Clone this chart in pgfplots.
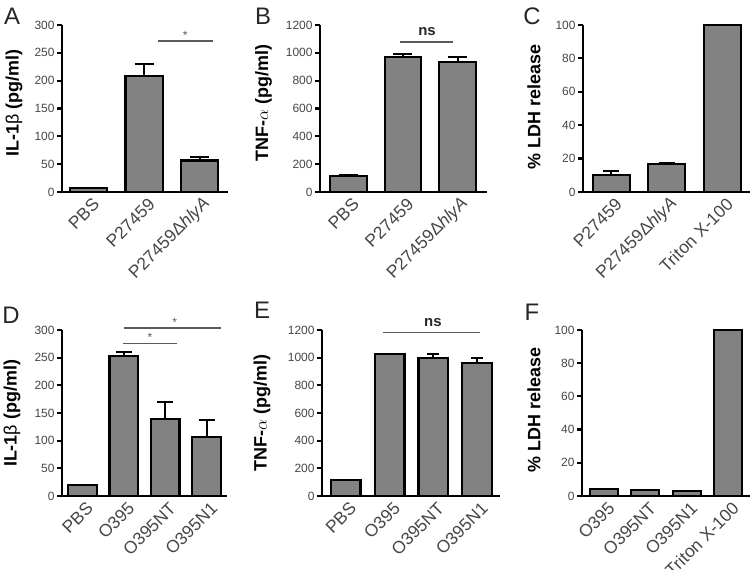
\documentclass[border=0pt]{standalone}
\usepackage{fontspec}
\setmainfont{Liberation Sans}
\usepackage{pgfplots}
\pgfplotsset{compat=1.18}
\definecolor{barfill}{RGB}{130,130,130}
\definecolor{tickgray}{RGB}{70,70,70}
\definecolor{siggray}{RGB}{90,90,90}
\tikzset{sig/.style={line width=1.5bp, siggray}}
\pgfplotsset{
  panel/.style={
    scale only axis,
    axis x line*=bottom, axis y line*=left,
    axis line style={line width=2.6bp, black},
    ymin=0, enlarge y limits=false,
    xtick={0,1,2,3}, xtick style={draw=none},
    tick align=outside, major tick length=5bp,
    ytick style={line width=2.2bp, black},
    /pgf/number format/assume math mode=true,
    /pgf/number format/1000 sep={},
    yticklabel style={font=\fontsize{12}{12}\selectfont, text=tickgray, xshift=1bp},
    xticklabel style={font=\fontsize{17.5}{18}\selectfont, text=tickgray, xshift=10bp, yshift=-2bp, rotate=45, anchor=east},
    ybar, bar shift=0pt,
    clip=false,
  },
  bars/.style={fill=barfill, draw=black, line width=2.2bp,
    error bars/.cd, y dir=plus, y explicit,
    error bar style={line width=2bp, black},
    error mark options={rotate=90, line width=2bp, black, mark size=#1}},
}
\begin{document}
\begin{tikzpicture}[x=1bp,y=1bp]
\useasboundingbox (0,0) rectangle (750,570);
% ---------- A ----------
\begin{axis}[panel, at={(62bp,378bp)}, anchor=south west, width=166bp, height=167bp,
  xmin=-0.48, xmax=2.51, ymax=300, ytick={0,50,...,300}, bar width=0.67,
  xticklabels={PBS, P27459, P27459Δ\textit{hlyA}}]
\addplot[bars=9.5bp] table[x=x, y=y, y error=e] {
x y e
0 7 0
1 208 22
2 56.5 6
};
\draw[sig] (axis cs:1.25,271) -- (axis cs:2.24,271);
\node[font=\fontsize{12}{12}\selectfont, text=siggray] at (axis cs:1.74,281) {*};
\end{axis}
% ---------- B ----------
\begin{axis}[panel, at={(320bp,378bp)}, anchor=south west, width=167bp, height=167bp,
  xmin=-0.52, xmax=2.54, ymax=1200, ytick={0,200,...,1200}, bar width=0.67,
  xticklabels={PBS, P27459, P27459Δ\textit{hlyA}}]
\addplot[bars=9.5bp] table[x=x, y=y, y error=e] {
x y e
0 115 8
1 970 18
2 936 32
};
\draw[sig] (axis cs:0.945,1078) -- (axis cs:1.916,1078);
\node[font=\fontsize{15}{15}\selectfont\bfseries, text=black!85] at (axis cs:1.44,1150) {ns};
\end{axis}
% ---------- C ----------
\begin{axis}[panel, at={(583bp,378bp)}, anchor=south west, width=167bp, height=167bp,
  xmin=-0.51, xmax=2.50, ymax=100, ytick={0,20,...,100}, bar width=0.67,
  xticklabels={P27459, P27459Δ\textit{hlyA}, Triton X-100}]
\addplot[bars=8bp] table[x=x, y=y, y error=e] {
x y e
0 10.4 1.9
1 16.6 0.9
2 100 0
};
\end{axis}
% ---------- D ----------
\begin{axis}[panel, at={(62bp,74bp)}, anchor=south west, width=165bp, height=166bp,
  xmin=-0.49, xmax=3.49, ymax=300, ytick={0,50,...,300}, bar width=0.69,
  xticklabels={PBS, O395, O395NT, O395N1}]
\addplot[bars=8bp] table[x=x, y=y, y error=e] {
x y e
0 20 0
1 252.6 7.5
2 138.6 31.5
3 106 31
};
\draw[sig] (axis cs:0.98,276) -- (axis cs:2.28,276);
\node[font=\fontsize{12}{12}\selectfont, text=siggray] at (axis cs:1.63,286) {*};
\draw[sig] (axis cs:1.0,303.6) -- (axis cs:3.34,303.6);
\node[font=\fontsize{12}{12}\selectfont, text=siggray] at (axis cs:2.23,314) {*};
\end{axis}
% ---------- E ----------
\begin{axis}[panel, at={(322bp,74bp)}, anchor=south west, width=178bp, height=166bp,
  xmin=-0.54, xmax=3.52, ymax=1200, ytick={0,200,...,1200}, bar width=0.68,
  xticklabels={PBS, O395, O395NT, O395N1}]
\addplot[bars=6bp] table[x=x, y=y, y error=e] {
x y e
0 113 0
1 1028 0
2 1000 24
3 964 36
};
\draw[sig] (axis cs:0.85,1181) -- (axis cs:3.07,1181);
\node[font=\fontsize{15}{15}\selectfont\bfseries, text=black!85] at (axis cs:1.99,1255) {ns};
\end{axis}
% ---------- F ----------
\begin{axis}[panel, at={(582bp,74bp)}, anchor=south west, width=168bp, height=166bp,
  xmin=-0.53, xmax=3.53, ymax=100, ytick={0,20,...,100}, bar width=0.68,
  xticklabels={O395, O395NT, O395N1, Triton X-100}]
\addplot[fill=barfill, draw=black, line width=2.2bp] table[x=x, y=y] {
x y
0 4.2
1 3.4
2 3.0
3 100
};
\end{axis}
% ---------- panel letters ----------
\begin{scope}[every node/.style={font=\fontsize{24}{24}\selectfont, text=black!85}]
\node at (12,554) {A};
\node at (263,554) {B};
\node at (532,554) {C};
\node at (11,255) {D};
\node at (262,260) {E};
\node at (532,258) {F};
\end{scope}
% ---------- y labels ----------
\begin{scope}[every node/.style={font=\fontsize{18}{18}\selectfont\bfseries, rotate=90}]
\node at (14,467) {IL-1{\mdseries β} (pg/ml)};
\node at (263.5,467) {TNF-{\mdseries$\alpha$} (pg/ml)};
\node at (534,463) {\% LDH release};
\node at (12,156.5) {IL-1{\mdseries β} (pg/ml)};
\node at (262,157) {TNF-{\mdseries$\alpha$} (pg/ml)};
\node at (534,160) {\% LDH release};
\end{scope}
\end{tikzpicture}
\end{document}
